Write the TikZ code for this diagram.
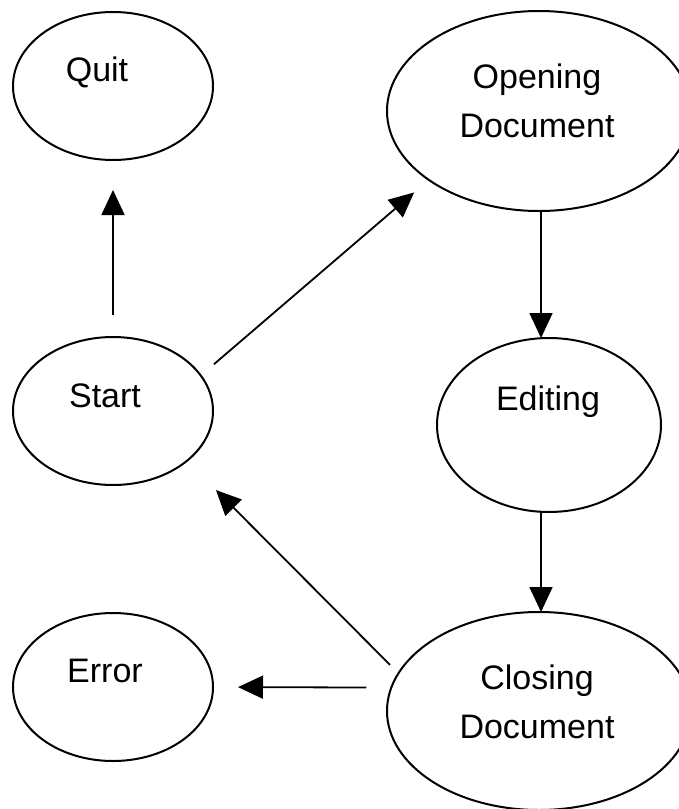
\documentclass[tikz,border=0pt]{standalone}
\usepackage{fontspec}
\setmainfont{Liberation Sans}
\usetikzlibrary{arrows.meta,shapes.geometric}
\begin{document}
\begin{tikzpicture}[x=1pt,y=-1pt,
  state/.style={ellipse, draw=black, line width=2pt, inner sep=0pt, outer sep=0pt},
  small/.style={minimum width=200pt, minimum height=148pt},
  txt/.style={font=\fontsize{34}{49}\selectfont, inner sep=0pt, outer sep=0pt, align=center, text=black},
  arr/.style={draw=black, line width=1.8pt, -{Triangle[length=25pt,width=23pt]}}]
\useasboundingbox (0,0) rectangle (679,809);
% states
\node[state, small] (quit) at (113,86) {};
\node[state, minimum width=304pt, minimum height=200pt] (open) at (539,111) {};
\node[state, small] (start) at (113,411) {};
\node[state, minimum width=224pt, minimum height=174pt] (edit) at (549,425) {};
\node[state, small] (err) at (113,687) {};
\node[state, minimum width=304pt, minimum height=198pt] (close) at (539,711) {};
% texts (base anchor = baseline of the last line)
\node[txt, anchor=base] (quitt) at (97,81) {Quit};
\node[txt, anchor=base] (opent) at (537,137) {Opening\\Document};
\node[txt, anchor=base] (startt) at (105,407) {Start};
\node[txt, anchor=base] (editt) at (548,410) {Editing};
\node[txt, anchor=base] (errt) at (105,682) {Error};
\node[txt, anchor=base] (closet) at (537,738) {Closing\\Document};
% transitions
\draw[arr, shorten <=22pt, shorten >=30pt] (start.north) -- (quit.south);
\draw[arr, shorten <=17.3pt, shorten >=19.3pt] (start.22.9) -- (open.212.1);
\draw[arr] ([xshift=2pt]open.south) -- ([xshift=-8pt]edit.north);
\draw[arr] ([xshift=-8pt]edit.south) -- ([xshift=2pt]close.north);
\draw[arr, shorten <=11.9pt, shorten >=41.2pt] (close.165) -- (start.326.1);
\draw[arr, shorten <=25pt, shorten >=25pt] (close.171.2) -- (err.east);
\end{tikzpicture}
\end{document}
